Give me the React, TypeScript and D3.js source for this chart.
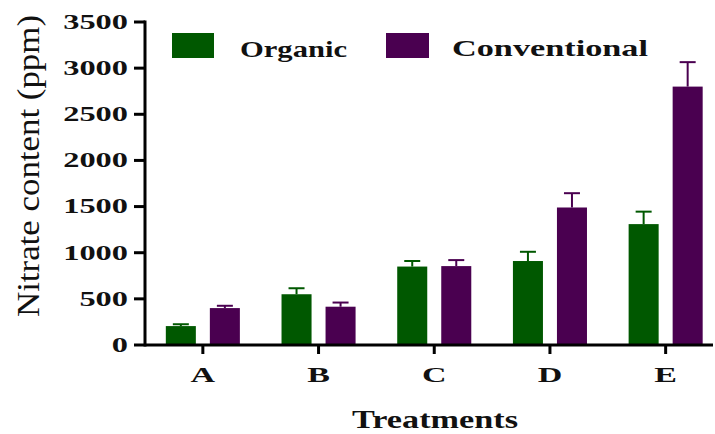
import React from "react";
import * as d3 from "d3";

const categories = ["A", "B", "C", "D", "E"];
const seriesNames = ["Organic", "Conventional"];
const organicValues = [205, 550, 850, 910, 1310];
const organicErrors = [20, 65, 60, 100, 135];
const conventionalValues = [400, 415, 855, 1490, 2800];
const conventionalErrors = [25, 45, 65, 155, 265];
const yTicks = [0, 500, 1000, 1500, 2000, 2500, 3000, 3500];

const colors = ["#005800", "#4a0050"];
const FONT = "'Liberation Serif', 'Times New Roman', serif";

export default function App() {
  const W = 715, H = 434;
  const x0 = 145, x1 = 723.5, yTop = 22, yBot = 345;
  const x = d3.scaleBand<string>().domain(categories).range([x0, x1]).padding(0);
  const xi = d3.scaleBand<string>().domain(seriesNames).range([0, x.bandwidth()]).paddingInner(0.318).paddingOuter(0.473);
  const y = d3.scaleLinear().domain([0, 3500]).range([yBot, yTop]);
  const values = [organicValues, conventionalValues];
  const errors = [organicErrors, conventionalErrors];
  const sx = 1.62;

  return (
    <div style={{ position: "absolute", left: 0, top: 0 }}>
      <svg width={W} height={H} style={{ display: "block", background: "#fff" }}>
        {/* bars and error bars */}
        {seriesNames.map((s, si) =>
          categories.map((c, ci) => {
            const v = values[si][ci];
            const e = errors[si][ci];
            const bx = (x(c) as number) + (xi(s) as number);
            const bw = xi.bandwidth();
            const cx = bx + bw / 2;
            return (
              <g key={s + c}>
                <line x1={cx} x2={cx} y1={y(v)} y2={y(v + e)} stroke={colors[si]} strokeWidth={2} />
                <line x1={cx - 8} x2={cx + 8} y1={y(v + e)} y2={y(v + e)} stroke={colors[si]} strokeWidth={2} />
                <rect x={bx} y={y(v)} width={bw} height={yBot - y(v)} fill={colors[si]} />
              </g>
            );
          })
        )}
        {/* y axis */}
        <line x1={x0} x2={x0} y1={yTop - 1.5} y2={yBot + 1.5} stroke="#000" strokeWidth={3} />
        {yTicks.map((t) => (
          <g key={t}>
            <line x1={x0 - 11} x2={x0} y1={y(t)} y2={y(t)} stroke="#000" strokeWidth={3} />
            <g transform={`translate(${x0 - 17},${y(t)}) scale(${sx},1)`}>
              <text textAnchor="end" dy="0.34em" fontFamily={FONT} fontWeight="bold" fontSize={20} fill="#111">
                {t}
              </text>
            </g>
          </g>
        ))}
        {/* x axis */}
        <line x1={x0} x2={713} y1={yBot} y2={yBot} stroke="#000" strokeWidth={3} />
        {categories.map((c) => {
          const cx = (x(c) as number) + x.bandwidth() / 2;
          return (
            <g key={c}>
              <line x1={cx} x2={cx} y1={yBot} y2={yBot + 9} stroke="#000" strokeWidth={3} />
              <g transform={`translate(${cx},382) scale(${sx},1)`}>
                <text textAnchor="middle" fontFamily={FONT} fontWeight="bold" fontSize={21} fill="#111">
                  {c}
                </text>
              </g>
            </g>
          );
        })}
        {/* axis titles */}
        <text x={352} y={428} textLength={166} lengthAdjust="spacingAndGlyphs" fontFamily={FONT} fontWeight="bold" fontSize={26} fill="#111">
          Treatments
        </text>
        <g transform={`translate(39,166) scale(1.12,1)`}>
          <text transform="rotate(-90)" textAnchor="middle" textLength={302} lengthAdjust="spacingAndGlyphs" fontFamily={FONT} fontSize={28} fill="#111">
            Nitrate content  (ppm)
          </text>
        </g>
        {/* legend */}
        <rect x={172} y={33} width={42} height={25} fill={colors[0]} />
        <text x={240} y={57} textLength={107} lengthAdjust="spacingAndGlyphs" fontFamily={FONT} fontWeight="bold" fontSize={23} fill="#111">
          {seriesNames[0]}
        </text>
        <rect x={386} y={33} width={43} height={25} fill={colors[1]} />
        <text x={452} y={56} textLength={196} lengthAdjust="spacingAndGlyphs" fontFamily={FONT} fontWeight="bold" fontSize={23} fill="#111">
          {seriesNames[1]}
        </text>
      </svg>
    </div>
  );
}
